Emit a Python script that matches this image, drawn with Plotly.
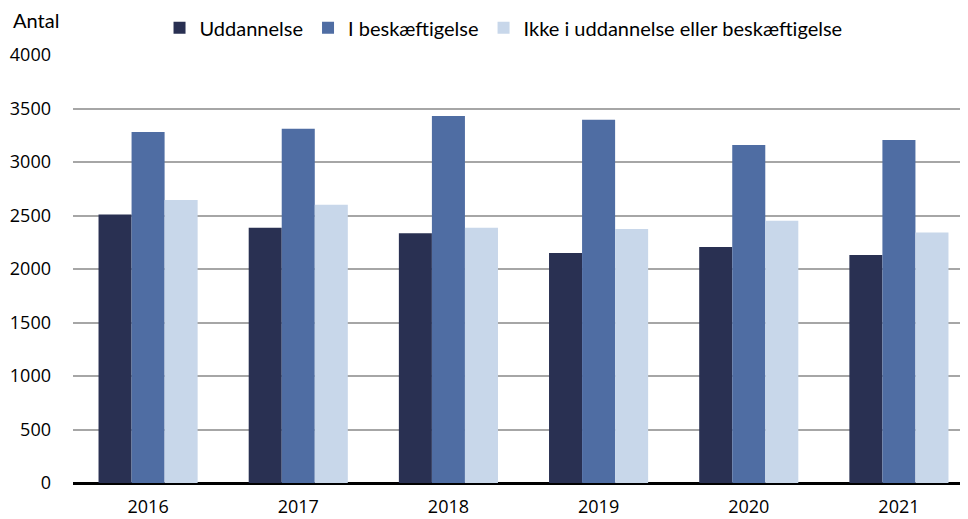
import plotly.graph_objects as go

years = ["2016", "2017", "2018", "2019", "2020", "2021"]
uddannelse = [2510, 2385, 2335, 2150, 2205, 2130]
beskaeftigelse = [3280, 3310, 3430, 3395, 3160, 3205]
ikke = [2645, 2600, 2385, 2375, 2450, 2340]

series = [
    ("Uddannelse", uddannelse, "#293052"),
    ("I beskæftigelse", beskaeftigelse, "#4f6da3"),
    ("Ikke i uddannelse eller beskæftigelse", ikke, "#c8d7ea"),
]

fig = go.Figure()
for name, vals, col in series:
    fig.add_trace(go.Bar(x=years, y=vals, name=name, marker_color=col,
                         marker_line_width=0))

font = "Lato, 'Noto Sans', sans-serif"
tickfont = dict(family="'Open Sans', sans-serif", size=18, color="#000000")
fig.update_layout(
    width=960, height=511,
    margin=dict(l=65, r=3, t=47, b=36, autoexpand=False),
    paper_bgcolor="white", plot_bgcolor="white",
    barmode="group", bargap=0.34, bargroupgap=0,
    font=dict(family=font, size=20, color="#000000"),
    legend=dict(orientation="h", x=0.097, y=1.109, xanchor="left", yanchor="top",
                font=dict(size=20), itemwidth=30, traceorder="normal",
                borderwidth=0),
    xaxis=dict(range=[-0.5, 5.44], showgrid=False, showline=False, ticks="",
               tickfont=tickfont, automargin=False, ticklabelstandoff=11),
    yaxis=dict(range=[0, 4000], dtick=500, showgrid=True, gridcolor="#a6a6a6",
               gridwidth=1.5, zeroline=True, zerolinecolor="#000000", zerolinewidth=2.5,
               ticks="", tickfont=tickfont, ticklabelstandoff=21, automargin=False),
    annotations=[dict(text="Antal", xref="paper", yref="paper", x=-0.0415, y=1.082,
                      xanchor="center", yanchor="middle", showarrow=False,
                      font=dict(size=20))],
)
fig.write_html("out.html")
